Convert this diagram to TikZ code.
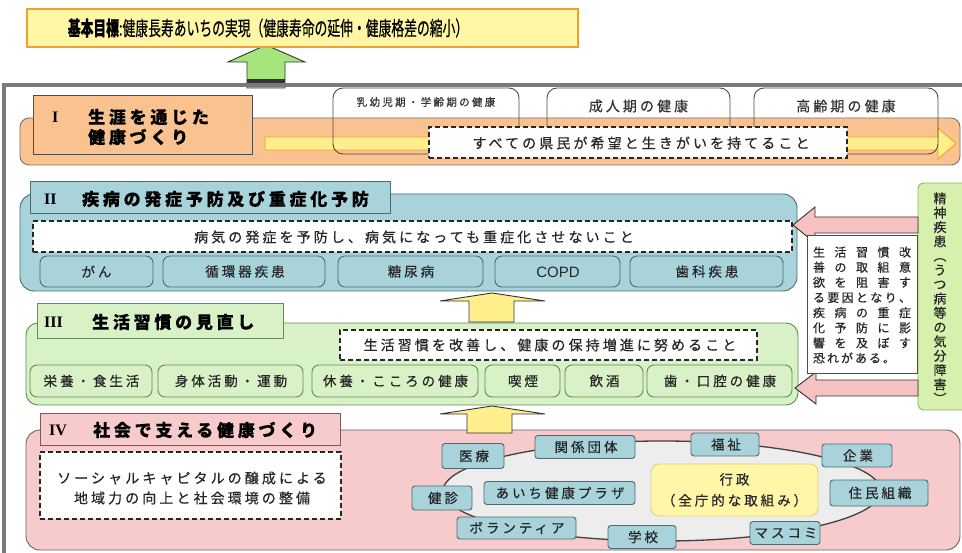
\documentclass[tikz,border=0pt]{standalone}
\usepackage{fontspec}
\usepackage{graphicx}
\newfontfamily\jp[LetterSpace=22,FakeBold=0.5]{Noto Sans CJK JP}
\newfontfamily\jpn[FakeBold=0.4]{Noto Sans CJK JP}
\newfontfamily\rom{Liberation Serif}
\newfontfamily\lat{Liberation Sans}
\definecolor{goalfill}{HTML}{FFF6A6}
\definecolor{goalline}{HTML}{F0A030}
\definecolor{garrow}{HTML}{A6E57C}
\definecolor{framec}{HTML}{7A7A7A}
\definecolor{orI}{HTML}{FAC28E}
\definecolor{tealc}{HTML}{A8D3DA}
\definecolor{tealline}{HTML}{4D6B70}
\definecolor{grIII}{HTML}{D8F1C6}
\definecolor{grline}{HTML}{5F8F4F}
\definecolor{pkIV}{HTML}{F7CBCB}
\definecolor{pkline}{HTML}{7A5A5A}
\definecolor{yarr}{HTML}{FFEF8C}
\definecolor{ringc}{HTML}{EDEDED}
\definecolor{gyofill}{HTML}{FFF6A8}
\definecolor{gyoline}{HTML}{E2D27A}
\definecolor{mental}{HTML}{D6F0AE}
\definecolor{mentalline}{HTML}{8CB76A}
\definecolor{pkarr}{HTML}{F5C1C1}
\tikzset{
  box/.style={inner sep=0pt, outer sep=0pt},
  goalbox/.style={box, draw=goalline, fill=goalfill, line width=2.2},
  secIbox/.style={box, draw=black!55, fill=orI, rounded corners=9, line width=0.9},
  ttlIbox/.style={box, draw=black!70, fill=orI, line width=0.9},
  periodbox/.style={box, draw=black!70, rounded corners=10, line width=0.9},
  secIIbox/.style={box, draw=tealline, fill=tealc, rounded corners=14, line width=0.9},
  ttlIIbox/.style={box, draw=tealline, fill=tealc, line width=0.9},
  itemII/.style={box, draw=tealline, fill=tealc, rounded corners=7, line width=0.9},
  secIIIbox/.style={box, draw=grline, fill=grIII, rounded corners=12, line width=0.9},
  ttlIIIbox/.style={box, draw=grline, fill=grIII, line width=0.9},
  itemIII/.style={box, draw=grline, fill=grIII, rounded corners=7, line width=0.9},
  secIVbox/.style={box, draw=black!60, fill=pkIV, rounded corners=14, line width=0.9},
  ttlIVbox/.style={box, draw=pkline, fill=pkIV, line width=0.9},
  itemIV/.style={box, draw=tealline, fill=tealc, rounded corners=3, line width=0.9},
  dashbox/.style={box, draw=black!85, fill=white, line width=1.6, dash pattern=on 5pt off 3pt},
  blockarrow/.style={line width=0.9, draw=black!80, line join=miter},
  ttl/.style={inner sep=0pt, anchor=west, font=\fontsize{17}{20}\selectfont\jp\bfseries},
  num/.style={inner sep=0pt, anchor=west, font=\fontsize{16}{18}\selectfont\rom\bfseries},
  txt/.style={inner sep=0pt, font=\fontsize{14}{16}\selectfont\jp, text=black!85},
  itxt/.style={inner sep=0pt, font=\fontsize{13.5}{16}\selectfont\jp, text=black!85},
}
\begin{document}
\begin{tikzpicture}[x=1pt,y=-1pt]
\useasboundingbox (0,0) rectangle (962,553);
\fill[white] (0,0) rectangle (962,553);

% green arrow to goal
\draw[blockarrow, fill=garrow] (247,88) -- (247,62) -- (228,62) -- (266,45) -- (305,62) -- (285,62) -- (285,88) -- cycle;
\fill[black!80] (247,79) rectangle (285,86);
% goal
\node[goalbox, minimum width=551, minimum height=38] (goal) at (302.5,28) {};
\node[inner sep=0pt] (goaltxt) at (268,28) {\scalebox{0.64}[1]{\fontsize{20}{22}\selectfont\jpn\textbf{基本目標}:健康長寿あいちの実現（健康寿命の延伸・健康格差の縮小）}};

% outer frame
\draw[line width=3.5, framec] (4,85) rectangle (990,590);

% ===== Section I =====
\node[secIbox, minimum width=940, minimum height=47] (secI) at (490,141.5) {};
\draw[line width=0.9, draw=goalline, fill=yarr, line join=miter] (265,137) -- (938,137) -- (938,128) -- (956,143.5) -- (938,159) -- (938,150) -- (265,150) -- cycle;
\node[ttlIbox, minimum width=219, minimum height=59] (ttlI) at (142.5,124.5) {};
\node[num] (numI) at (52,117) {I};
\node[ttl] (ttlIa) at (88,117) {生涯を通じた};
\node[ttl] (ttlIb) at (88,137) {健康づくり};
\node[periodbox, minimum width=186, minimum height=66] (p1) at (426,121) {};
\node[periodbox, minimum width=183, minimum height=66] (p2) at (638.5,121) {};
\node[periodbox, minimum width=184, minimum height=66] (p3) at (846,121) {};
\node[inner sep=0pt, font=\fontsize{10.5}{12}\selectfont\jp, text=black!80] (p1t) at (426,102) {乳幼児期・学齢期の健康};
\node[txt, text=black!80] (p2t) at (638.5,106) {成人期の健康};
\node[txt, text=black!80] (p3t) at (846,106) {高齢期の健康};
\node[dashbox, minimum width=418, minimum height=31] (dI) at (638,142.5) {};
\node[txt] (dIt) at (641,143) {すべての県民が希望と生きがいを持てること};

% ===== Section II =====
\node[secIIbox, minimum width=777, minimum height=97] (secII) at (408.5,242.5) {};
\node[ttlIIbox, minimum width=360, minimum height=32] (ttlII) at (210,197) {};
\node[num] (numII) at (44,199) {II};
\node[ttl] (ttlIIt) at (82,199) {疾病の発症予防及び重症化予防};
\node[dashbox, minimum width=759, minimum height=31] (dII) at (412.5,236.5) {};
\node[txt] (dIIt) at (414,237) {病気の発症を予防し、病気になっても重症化させないこと};
\node[itemII, minimum width=113, minimum height=31] (gan) at (96.5,271.5) {};
\node[itxt] (gant) at (96.5,271.5) {がん};
\node[itemII, minimum width=162, minimum height=31] (jun) at (244,271.5) {};
\node[itxt] (junt) at (245,271.5) {循環器疾患};
\node[itemII, minimum width=145, minimum height=31] (tou) at (410.5,271.5) {};
\node[itxt] (tout) at (411,271.5) {糖尿病};
\node[itemII, minimum width=125, minimum height=31] (copd) at (557.5,271.5) {};
\node[inner sep=0pt, font=\fontsize{15}{16}\selectfont\lat, text=black!85] (copdt) at (558,272) {COPD};
\node[itemII, minimum width=153, minimum height=31] (shika) at (706.5,271.5) {};
\node[itxt] (shikat) at (707,271.5) {歯科疾患};

% ===== Section III =====
\node[secIIIbox, minimum width=772, minimum height=82] (secIII) at (412,364) {};
\node[ttlIIIbox, minimum width=246, minimum height=35] (ttlIII) at (160,320.5) {};
\node[num] (numIII) at (44,322) {III};
\node[ttl] (ttlIIIt) at (92,322) {生活習慣の見直し};
\node[dashbox, minimum width=417, minimum height=30] (dIII) at (548.5,345) {};
\node[txt] (dIIIt) at (550,345) {生活習慣を改善し、健康の保持増進に努めること};
\node[itemIII, minimum width=122, minimum height=32] (eiyo) at (91,381) {};
\node[itxt] (eiyot) at (91.5,381) {栄養・食生活};
\node[itemIII, minimum width=145, minimum height=32] (shin) at (230.5,381) {};
\node[itxt] (shint) at (231,381) {身体活動・運動};
\node[itemIII, minimum width=166, minimum height=32] (kyu) at (395,381) {};
\node[itxt] (kyut) at (395.5,381) {休養・こころの健康};
\node[itemIII, minimum width=75, minimum height=32] (kitsu) at (522.5,381) {};
\node[itxt] (kitsut) at (523,381) {喫煙};
\node[itemIII, minimum width=78, minimum height=32] (inshu) at (604,381) {};
\node[itxt] (inshut) at (604.5,381) {飲酒};
\node[itemIII, minimum width=145, minimum height=32] (ha) at (719.5,381) {};
\node[itxt] (hat) at (720,381) {歯・口腔の健康};

% ===== Section IV =====
\node[secIVbox, minimum width=934, minimum height=120] (secIV) at (493,490) {};
\node[ttlIVbox, minimum width=300, minimum height=32] (ttlIV) at (190,429) {};
\node[num] (numIV) at (49,430) {IV};
\node[ttl] (ttlIVt) at (93,430) {社会で支える健康づくり};
\node[dashbox, minimum width=301, minimum height=67] (dIV) at (190.5,485.5) {};
\node[txt, align=center, font=\fontsize{14}{20}\selectfont\jp] (dIVt) at (192,488) {ソーシャルキャピタルの醸成による\\地域力の向上と社会環境の整備};

\draw[line width=1.3, draw=black!75, fill=ringc] (662,491) ellipse [x radius=219, y radius=50];
\node[itemIV, minimum width=62, minimum height=25] (iryo) at (473,456) {};
\node[itxt] (iryot) at (474,456) {医療};
\node[itemIV, minimum width=100, minimum height=23] (kan) at (585,447) {};
\node[itxt] (kant) at (586,447) {関係団体};
\node[itemIV, minimum width=68, minimum height=23] (fuku) at (725,444.5) {};
\node[itxt] (fukut) at (726,444.5) {福祉};
\node[itemIV, minimum width=70, minimum height=23] (kigyo) at (857,455.5) {};
\node[itxt] (kigyot) at (858,455.5) {企業};
\node[itemIV, minimum width=98, minimum height=26] (jumin) at (879,493) {};
\node[itxt] (jumint) at (880,493) {住民組織};
\node[itemIV, minimum width=70, minimum height=23] (masu) at (785,533) {};
\node[itxt] (masut) at (786,533) {マスコミ};
\node[itemIV, minimum width=68, minimum height=23] (gakko) at (642,537) {};
\node[itxt] (gakkot) at (643,537) {学校};
\node[itemIV, minimum width=119, minimum height=22] (vol) at (516.5,528) {};
\node[itxt] (volt) at (517,528) {ボランティア};
\node[itemIV, minimum width=60, minimum height=24] (ken) at (442,498) {};
\node[itxt] (kent) at (443,498) {健診};
\node[itemIV, minimum width=151, minimum height=23] (plaza) at (559.5,493) {};
\node[itxt] (plazat) at (560,493) {あいち健康プラザ};
\node[box, draw=gyoline, fill=gyofill, rounded corners=8, line width=0.9, minimum width=167, minimum height=52] (gyo) at (734.5,490) {};
\node[itxt, align=center, font=\fontsize{13.5}{21}\selectfont\jp] (gyot) at (734.5,490) {行政\\（全庁的な取組み）};

% ===== yellow up arrows =====
\draw[blockarrow, fill=yarr] (469,322) -- (469,301) -- (440,301) -- (492,293) -- (545,301) -- (514,301) -- (514,322) -- cycle;
\draw[blockarrow, fill=yarr] (467,433) -- (467,414) -- (440,414) -- (492,406) -- (545,414) -- (512,414) -- (512,433) -- cycle;

% ===== right side =====
\node[box, draw=mentalline, fill=mental, rounded corners=6, line width=0.9, minimum width=60, minimum height=227] (mentalbox) at (948,296.5) {};
\node[inner sep=0pt, align=center, font=\fontsize{13}{14.3}\selectfont\jpn, text=black!85] (mentalt) at (940,298) {精\\神\\疾\\患\\︵\\う\\つ\\病\\等\\の\\気\\分\\障\\害\\︶};
\draw[blockarrow, fill=pkarr] (918,217) -- (815,217) -- (815,207) -- (793,225) -- (815,243) -- (815,233) -- (918,233) -- cycle;
\draw[blockarrow, fill=pkarr] (918,380) -- (816,380) -- (816,372) -- (795,388) -- (816,404) -- (816,396) -- (918,396) -- cycle;
\node[box, draw=black!70, fill=white, line width=0.9, minimum width=110, minimum height=138] (note) at (862,304) {};
\node[inner sep=0pt, align=left, font=\fontsize{12}{15.14}\selectfont\jpn, text=black!85] (notet) at (862,305) {%
\makebox[98pt][s]{生\hfill 活\hfill 習\hfill 慣\hfill 改}\\
\makebox[98pt][s]{善\hfill の\hfill 取\hfill 組\hfill 意}\\
\makebox[98pt][s]{欲\hfill を\hfill 阻\hfill 害\hfill す}\\
\makebox[98pt][s]{る\hfill 要\hfill 因\hfill と\hfill な\hfill り\hfill 、}\\
\makebox[98pt][s]{疾\hfill 病\hfill の\hfill 重\hfill 症}\\
\makebox[98pt][s]{化\hfill 予\hfill 防\hfill に\hfill 影}\\
\makebox[98pt][s]{響\hfill を\hfill 及\hfill ぼ\hfill す}\\
\makebox[98pt][l]{恐\hspace{2pt}れ\hspace{2pt}が\hspace{2pt}あ\hspace{2pt}る\hspace{2pt}。}};
\end{tikzpicture}
\end{document}
